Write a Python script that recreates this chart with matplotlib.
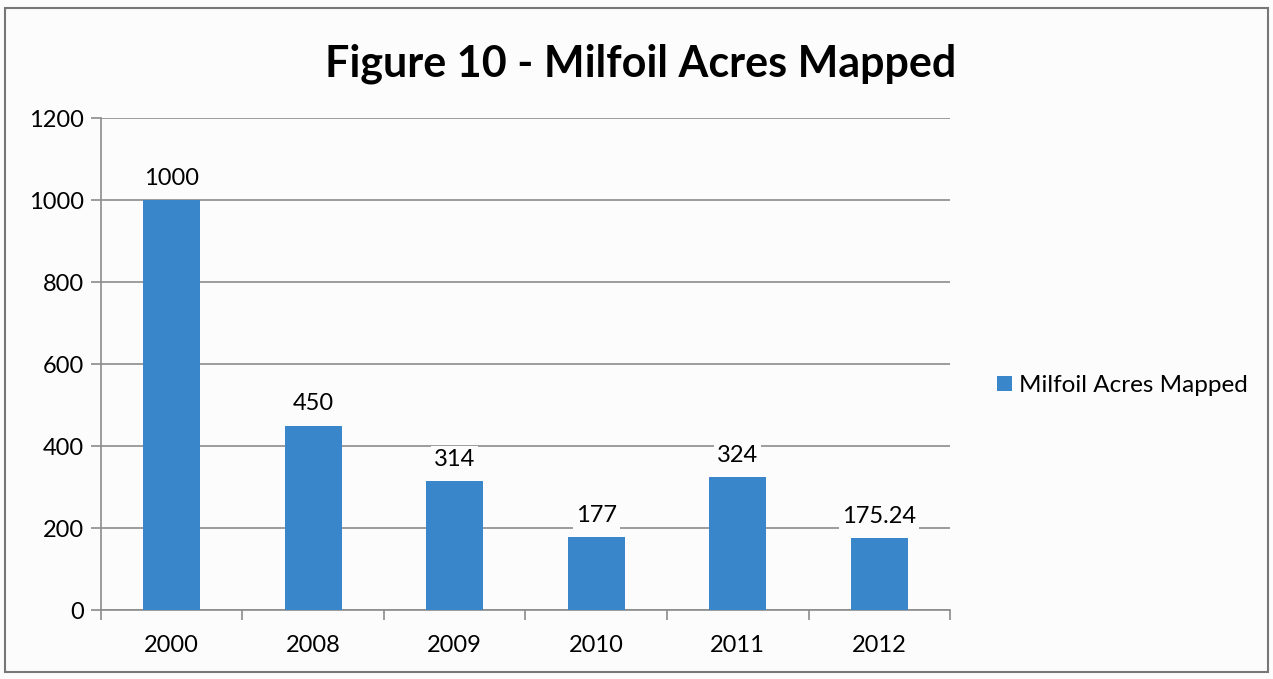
import matplotlib.pyplot as plt
import matplotlib.patches as patches
import numpy as np

# data
years = ["2000", "2008", "2009", "2010", "2011", "2012"]
acres = [1000, 450, 314, 177, 324, 175.24]
labels = ["1000", "450", "314", "177", "324", "175.24"]

plt.rcParams['font.family'] = ['Lato', 'DejaVu Sans']

fig = plt.figure(figsize=(12.73, 6.79), dpi=100)
fig.patch.set_facecolor('#fcfcfc')
ax = fig.add_axes([0.0793, 0.1016, 0.667, 0.7246])
ax.set_facecolor('#fcfcfc')

x = np.arange(len(years))
bars = ax.bar(x, acres, width=0.4, color='#3a86cb', label='Milfoil Acres Mapped', zorder=3)

ax.set_xlim(-0.5, len(years) - 0.5)
ax.set_ylim(0, 1200)
ax.set_yticks(np.arange(0, 1201, 200))
ax.yaxis.grid(True, color='#8c8c8c', linewidth=1.2, zorder=0)

# ticks between categories on x
ax.set_xticks(np.arange(-0.5, len(years)), minor=False)
ax.set_xticklabels([])
ax.set_xticks(x, minor=True)
ax.set_xticklabels(years, minor=True, fontsize=17)
ax.tick_params(axis='x', which='minor', length=0, pad=18)
ax.tick_params(axis='x', which='major', length=7, color='#8c8c8c', width=1.2)
ax.tick_params(axis='y', length=7, color='#8c8c8c', width=1.2, labelsize=17, pad=5)

for s in ['top', 'right']:
    ax.spines[s].set_visible(False)
for s in ['left', 'bottom']:
    ax.spines[s].set_color('#8c8c8c')
    ax.spines[s].set_linewidth(1.2)

for xi, v, lab in zip(x, acres, labels):
    ax.text(xi, v + 28, lab, ha='center', va='bottom', fontsize=17, zorder=4,
            bbox=dict(facecolor='#fcfcfc', edgecolor='none', pad=2))

fig.text(0.503, 0.906, "Figure 10 - Milfoil Acres Mapped", ha='center', va='center',
         fontsize=31, fontweight='bold')

fig.legend(handles=[bars], labels=['Milfoil Acres Mapped'], loc='center left',
           bbox_to_anchor=(0.766, 0.432), frameon=False, fontsize=17.5,
           handlelength=0.6, handleheight=0.6, handletextpad=0.3)

# outer frame of the chart box
fig.patches.append(patches.Rectangle((0.004, 0.01), 0.992, 0.978, transform=fig.transFigure,
                                     fill=False, edgecolor='#777777', linewidth=1.5))

fig.savefig('out.png', dpi=100, facecolor=fig.get_facecolor())
